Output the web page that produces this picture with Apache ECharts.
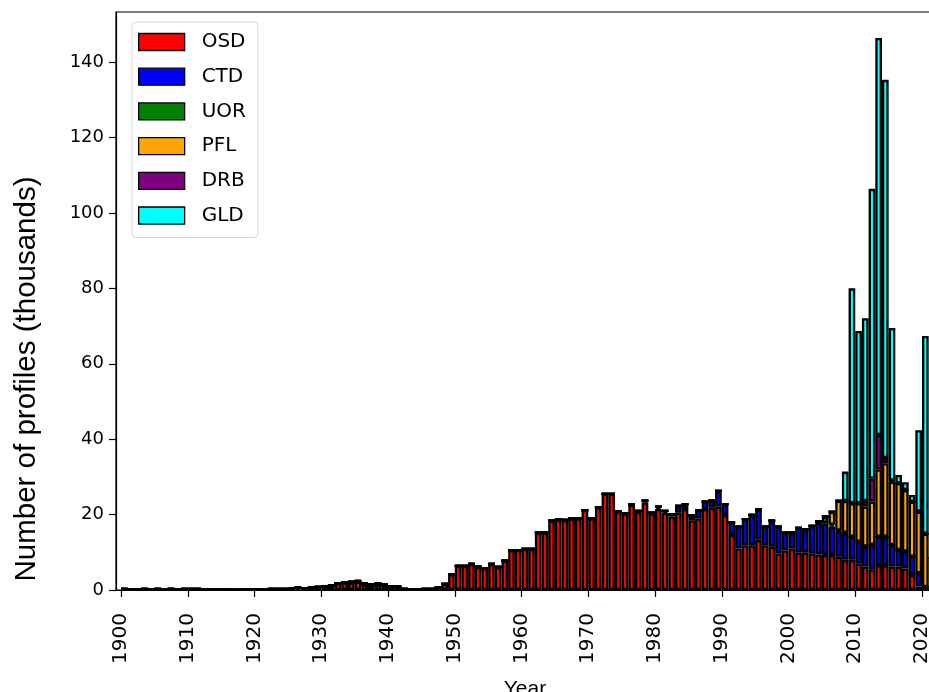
<!DOCTYPE html>
<html>
<head>
<meta charset="utf-8">
<script src="https://cdn.jsdelivr.net/npm/echarts@6/dist/echarts.min.js"></script>
<style>
html,body{margin:0;padding:0;background:#fff;}
#chart{width:929px;height:692px;}
</style>
</head>
<body>
<div id="chart"></div>
<script>
// Years 1900..2021 (histogram bins [year, year+1))
const years = Array.from({length: 122}, (_, i) => 1900 + i);
const xTickLabels = [1900, 1910, 1920, 1930, 1940, 1950, 1960, 1970, 1980, 1990, 2000, 2010, 2020];
const yTickLabels = [0, 20, 40, 60, 80, 100, 120, 140];
const seriesNames = ['OSD', 'CTD', 'UOR', 'PFL', 'DRB', 'GLD'];

// values in thousands of profiles per year
const OSD = [
  0.3,0.2,0.2,0.3,0.2,0.3,0.2,0.3,0.2,0.3,
  0.3,0.3,0.2,0.2,0.2,0.2,0.1,0.1,0.2,0.2,
  0.2,0.2,0.3,0.3,0.3,0.4,0.6,0.5,0.7,0.8,
  1.0,1.2,1.8,2.0,2.0,2.2,1.5,1.2,1.5,1.3,
  1.0,0.9,0.3,0.2,0.2,0.3,0.3,0.7,1.6,4.2,
  6.4,6.4,6.9,6.2,5.8,6.9,6.1,7.8,10.6,10.6,
  10.9,10.9,15.2,15.2,18.4,18.7,18.6,18.9,19.0,21.2,
  19.0,21.9,25.5,25.5,20.8,20.3,22.6,20.8,23.2,20.3,
  21.5,20.5,19.5,20.5,21.5,18.5,19.0,21.5,21.8,22.1,
  19.9,14.6,11.0,11.9,11.9,13.3,11.9,11.5,9.7,10.5,
  11.0,9.9,9.9,9.6,9.4,9.3,9.3,8.8,8.0,8.0,
  7.1,6.2,5.5,6.6,6.6,6.2,6.2,5.7,4.0,0.9,
  0.1,0.0
];
const CTD = [
  0,0,0,0,0,0,0,0,0,0,
  0,0,0,0,0,0,0,0,0,0,
  0,0,0,0,0,0,0,0,0,0,
  0,0,0,0,0,0,0,0,0,0,
  0,0,0,0,0,0,0,0,0,0,
  0,0,0,0,0,0,0,0,0,0,
  0,0,0,0,0,0,0,0,0,0,
  0,0,0,0,0,0,0.1,0.2,0.5,0.2,
  0.6,0.5,0.5,1.8,1.3,1.3,2.2,1.9,1.9,4.2,
  2.9,3.3,5.8,6.9,8.0,8.1,4.9,6.9,7.1,4.7,
  4.2,6.6,6.2,7.4,8.5,8.4,7.5,6.7,7.0,6.1,
  5.7,5.3,6.5,7.5,7.5,5.7,4.4,4.5,4.8,3.5,
  0.7,0.3
];
const UOR = [
  0,0,0,0,0,0,0,0,0,0,
  0,0,0,0,0,0,0,0,0,0,
  0,0,0,0,0,0,0,0,0,0,
  0,0,0,0,0.2,0.2,0.3,0.3,0.3,0.2,
  0,0,0,0,0,0,0,0,0,0,
  0,0,0,0,0,0,0,0,0,0,
  0,0,0,0,0,0,0,0,0,0,
  0,0,0,0,0,0,0,0,0,0,
  0,0,0,0,0,0,0,0,0,0,
  0,0,0,0,0,0,0,0,0,0,
  0,0,0,0,0.3,1.8,0.5,0.3,0.2,0,
  0,0,0,0,0,0,0,0,0,0,
  0,0
];
const PFL = [
  0,0,0,0,0,0,0,0,0,0,
  0,0,0,0,0,0,0,0,0,0,
  0,0,0,0,0,0,0,0,0,0,
  0,0,0,0,0,0,0,0,0,0,
  0,0,0,0,0,0,0,0,0,0,
  0,0,0,0,0,0,0,0,0,0,
  0,0,0,0,0,0,0,0,0,0,
  0,0,0,0,0,0,0,0,0,0,
  0,0,0,0,0,0,0,0,0,0,
  0,0,0,0,0,0,0,0,0,0,
  0,0,0,0,0,0,3.5,7.9,8.4,8.9,
  10.2,10.6,11.5,17.9,19.5,16.8,17.7,16.3,14.6,16.4,
  14.1,8.2
];
const DRB = [
  0,0,0,0,0,0,0,0,0,0,
  0,0,0,0,0,0,0,0,0,0,
  0,0,0,0,0,0,0,0,0,0,
  0,0,0,0,0,0,0,0,0,0,
  0,0,0,0,0,0,0,0,0,0,
  0,0,0,0,0,0,0,0,0,0,
  0,0,0,0,0,0,0,0,0,0,
  0,0,0,0,0,0,0,0,0,0,
  0,0,0,0,0,0,0,0,0,0,
  0,0,0,0,0,0,0,0,0,0,
  0,0,0,0,0,0,0,0,0,0,
  0,1.5,6.0,9.1,1.4,0.3,0,0,0,0,
  0,0
];
const GLD = [
  0,0,0,0,0,0,0,0,0,0,
  0,0,0,0,0,0,0,0,0,0,
  0,0,0,0,0,0,0,0,0,0,
  0,0,0,0,0,0,0,0,0,0,
  0,0,0,0,0,0,0,0,0,0,
  0,0,0,0,0,0,0,0,0,0,
  0,0,0,0,0,0,0,0,0,0,
  0,0,0,0,0,0,0,0,0,0,
  0,0,0,0,0,0,0,0,0,0,
  0,0,0,0,0,0,0,0,0,0,
  0,0,0,0,0,0,0,0,7.8,57.0,
  45.7,48.5,76.9,105.3,100.3,40.5,2.2,2.1,1.8,21.6,
  52.5,0
];
const seriesValues = [OSD, CTD, UOR, PFL, DRB, GLD];
const seriesColors = ['#ff0000', '#0000ff', '#008000', '#ffa500', '#800080', '#00ffff'];

const chart = echarts.init(document.getElementById('chart'), null, {renderer: 'canvas'});

const X_MIN = 1899.25, X_MAX = 2023;
const PX_PER_YEAR = 6.675;
const Y_MAX = 153.3;
const gridTop = 12, gridHeight = 578;
const frameLeft = 116;
const frameWidth = (X_MAX - X_MIN) * PX_PER_YEAR;
const barsLeft = frameLeft + (1900 - X_MIN) * PX_PER_YEAR;
const barsWidth = years.length * PX_PER_YEAR;

const series = seriesNames.map((name, k) => ({
  name: name,
  type: 'bar',
  stack: 'total',
  xAxisIndex: 1,
  yAxisIndex: 1,
  barCategoryGap: 0,
  barGap: 0,
  itemStyle: {color: seriesColors[k], borderColor: '#000', borderWidth: 2.3},
  emphasis: {disabled: true},
  animation: false,
  data: seriesValues[k]
}));

chart.setOption({
  animation: false,
  backgroundColor: '#fff',
  grid: [
    {
      left: frameLeft, top: gridTop, width: frameWidth, height: gridHeight,
      show: true, borderColor: '#000', borderWidth: 1.2, backgroundColor: 'transparent',
      outerBoundsMode: 'none', containLabel: false
    },
    {
      left: barsLeft, top: gridTop, width: barsWidth, height: gridHeight,
      show: false, outerBoundsMode: 'none', containLabel: false
    }
  ],
  legend: {
    data: seriesNames,
    orient: 'vertical',
    left: 132, top: 22,
    padding: [10, 12, 12, 6],
    itemWidth: 46, itemHeight: 17, itemGap: 14.7,
    icon: 'rect',
    backgroundColor: 'rgba(255,255,255,0.85)',
    borderColor: '#d6d6d6', borderWidth: 1, borderRadius: 4,
    itemStyle: {borderColor: '#000', borderWidth: 1.3},
    textStyle: {fontFamily: 'DejaVu Sans', fontSize: 20, color: '#000', padding: [0, 0, 0, 12]},
    selectedMode: false
  },
  xAxis: [
    {
      type: 'value', gridIndex: 0, min: X_MIN, max: X_MAX,
      axisLine: {show: true, lineStyle: {color: '#000', width: 1.2}},
      axisTick: {show: true, customValues: xTickLabels, length: 7, lineStyle: {color: '#000', width: 1.2}},
      axisLabel: {customValues: xTickLabels, rotate: 90, margin: 23, fontFamily: 'DejaVu Sans', fontSize: 20, color: '#000',
                  formatter: v => String(v)},
      splitLine: {show: false}
    },
    {
      type: 'category', gridIndex: 1, data: years, boundaryGap: true, show: false
    }
  ],
  yAxis: [
    {
      type: 'value', gridIndex: 0, min: 0, max: Y_MAX,
      axisLine: {show: true, lineStyle: {color: '#000', width: 1.2}},
      axisTick: {show: true, customValues: yTickLabels, length: 7, lineStyle: {color: '#000', width: 1.2}},
      axisLabel: {customValues: yTickLabels, margin: 12, fontFamily: 'DejaVu Sans', fontSize: 18, color: '#000'},
      splitLine: {show: false}
    },
    {
      type: 'value', gridIndex: 1, min: 0, max: Y_MAX, show: false, splitLine: {show: false}
    }
  ],
  graphic: [
    {
      type: 'text', x: 27, y: 379, rotation: Math.PI / 2, silent: true,
      style: {text: 'Number of profiles (thousands)', fontFamily: 'Liberation Sans', fontSize: 29.5,
              fill: '#000', align: 'center', verticalAlign: 'middle'}
    },
    {
      type: 'text', x: 525, y: 689, silent: true,
      style: {text: 'Year', fontFamily: 'Liberation Sans', fontSize: 21, fill: '#000',
              align: 'center', verticalAlign: 'middle'}
    }
  ],
  series: series
});
</script>
</body>
</html>
